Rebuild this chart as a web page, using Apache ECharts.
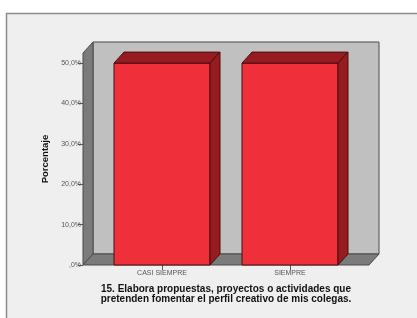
<!DOCTYPE html>
<html><head><meta charset="utf-8">
<script src="https://cdn.jsdelivr.net/npm/echarts@6/dist/echarts.min.js"></script>
<style>html,body{margin:0;padding:0;background:#fff}#c{width:417px;height:318px}</style>
</head><body><div id="c"></div>
<script>
const categories = ['CASI SIEMPRE', 'SIEMPRE'];
const values = [50.0, 50.0];
const yTicks = [0, 10, 20, 30, 40, 50];
const xTitle = '15. Elabora propuestas, proyectos o actividades que\npretenden fomentar el perfil creativo de mis colegas.';
const yTitle = 'Porcentaje';

const DX = 10, DY = 11, PAD = 15;
const chart = echarts.init(document.getElementById('c'));

function wallsRender(params, api) {
  const cs = params.coordSys;
  const l = cs.x - PAD, r = cs.x + cs.width + PAD, t = cs.y, b = cs.y + cs.height;
  const stroke = '#4a4a4a';
  return {
    type: 'group',
    children: [
      { type: 'polygon', shape: { points: [[l + DX, t - DY], [r + DX, t - DY], [r + DX, b - DY], [l + DX, b - DY]] },
        style: { fill: '#c0c0c0', stroke: stroke, lineWidth: 1 } },
      { type: 'polygon', shape: { points: [[l, b], [l + DX, b - DY], [l + DX, t - DY], [l, t]] },
        style: { fill: '#7b7b7b', stroke: stroke, lineWidth: 1 } },
      { type: 'polygon', shape: { points: [[l, b], [l + DX, b - DY], [r + DX, b - DY], [r, b]] },
        style: { fill: '#7b7b7b', stroke: stroke, lineWidth: 1 } }
    ]
  };
}

function barRender(params, api) {
  const top = api.coord([api.value(0), api.value(1)]);
  const base = api.coord([api.value(0), 0]);
  const w = api.size([1, 0])[0] * 0.75;
  const x0 = top[0] - w / 2, x1 = top[0] + w / 2, y1 = top[1], y0 = base[1];
  const stroke = '#4a0c0e';
  return {
    type: 'group',
    children: [
      { type: 'polygon', shape: { points: [[x0, y0], [x0, y1], [x1, y1], [x1, y0]] },
        style: { fill: '#ef303a', stroke: stroke, lineWidth: 1 } },
      { type: 'polygon', shape: { points: [[x0, y1], [x0 + DX, y1 - DY], [x1 + DX, y1 - DY], [x1, y1]] },
        style: { fill: '#961c22', stroke: stroke, lineWidth: 1 } },
      { type: 'polygon', shape: { points: [[x1, y1], [x1 + DX, y1 - DY], [x1 + DX, y0 - DY], [x1, y0]] },
        style: { fill: '#961c22', stroke: stroke, lineWidth: 1 } }
    ]
  };
}

chart.setOption({
  animation: false,
  backgroundColor: '#ffffff',
  graphic: [{
    type: 'rect', z: -10, silent: true,
    shape: { x: 6.5, y: 13.5, width: 430, height: 330 },
    style: { fill: '#efefef', stroke: '#8c8c8c', lineWidth: 1.5 }
  }],
  grid: { left: 98, right: 63, top: 53, bottom: 53 },
  xAxis: {
    type: 'category', data: categories,
    axisLine: { show: false },
    axisTick: { show: true, alignWithLabel: true, length: 5, lineStyle: { color: '#555' } },
    axisLabel: { fontSize: 7, color: '#555', margin: 5, fontFamily: 'Liberation Sans' },
    name: xTitle, nameLocation: 'middle', nameGap: 19,
    nameTextStyle: { fontSize: 10, fontWeight: 'bold', color: '#111', lineHeight: 10, fontFamily: 'Liberation Sans' }
  },
  yAxis: {
    type: 'value', min: 0, max: 52.5, interval: 10, offset: PAD,
    splitLine: { show: false },
    axisLine: { show: false },
    axisTick: { show: true, length: 5, lineStyle: { color: '#555' } },
    axisLabel: {
      fontSize: 7, color: '#555', margin: 2, fontFamily: 'Liberation Sans', showMaxLabel: false,
      formatter: v => yTicks.indexOf(v) < 0 ? '' : (v === 0 ? ',0%' : v.toFixed(1).replace('.', ',') + '%')
    },
    name: yTitle, nameLocation: 'middle', nameGap: 31,
    nameTextStyle: { fontSize: 9.5, fontWeight: 'bold', color: '#111', fontFamily: 'Liberation Sans' }
  },
  series: [
    { type: 'custom', z: 1, renderItem: wallsRender, data: [[0, 0]], encode: { x: 0, y: 1 }, silent: true },
    { type: 'custom', z: 2, renderItem: barRender, data: categories.map((c, i) => [i, values[i]]), encode: { x: 0, y: 1 } }
  ]
});
</script></body></html>
